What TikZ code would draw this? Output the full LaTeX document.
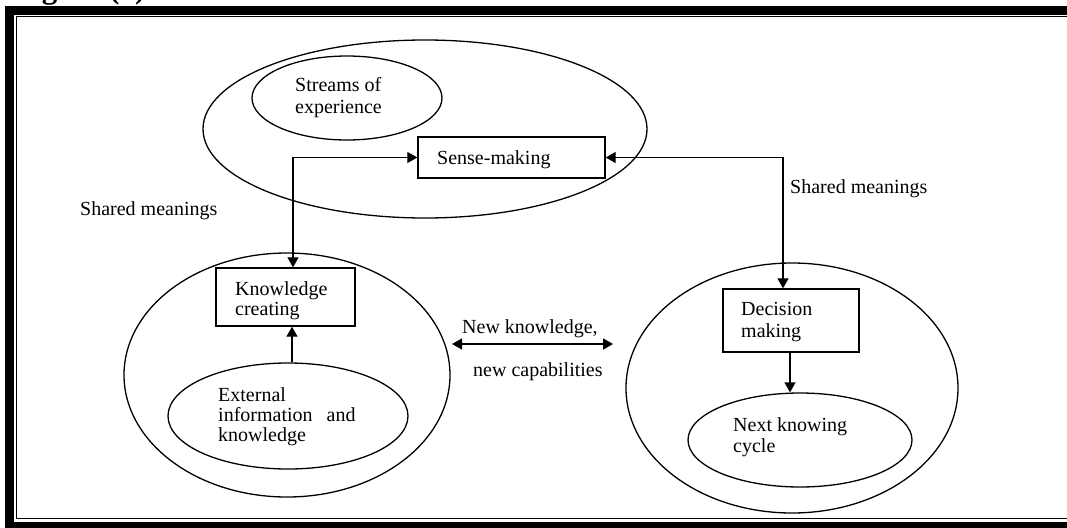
\documentclass[tikz,border=0pt]{standalone}
\usepackage{fontspec}
\setmainfont{Liberation Serif}
\usetikzlibrary{arrows.meta,shapes.geometric}
\begin{document}
\begin{tikzpicture}[x=1pt,y=-1pt,
  ell/.style={draw,ellipse,line width=1.3pt,inner sep=0pt},
  boxn/.style={draw,rectangle,line width=1.4pt,inner sep=0pt},
  txt/.style={anchor=base west,inner sep=0pt,font=\fontsize{20}{24}\selectfont},
  tip/.tip={Triangle[length=10pt,width=11pt]},
  conn/.style={line width=1.3pt,-tip},
  bconn/.style={line width=1.3pt,tip-tip}]
\useasboundingbox (0,0) rectangle (1067,527);
% frame
\fill (5,6) rectangle (1080,15);
\fill (5,6) rectangle (14,540);
\fill (5,521.5) rectangle (1080,540);
\draw[line width=1.5pt] (1080,16.7) -- (16.3,16.7) -- (16.3,518.5) -- (1080,518.5);
\node[anchor=base west,inner sep=0pt,font=\bfseries\fontsize{31}{33}\selectfont] (title) at (14,-1) {Figure (1)};
% shapes
\node[ell,minimum width=444pt,minimum height=178pt] (top) at (425,129) {};
\node[ell,minimum width=190pt,minimum height=84pt] (streams) at (347,98) {};
\node[boxn,minimum width=187pt,minimum height=41pt] (sense) at (511.5,157.5) {};
\node[ell,minimum width=326pt,minimum height=244pt] (lout) at (287,375) {};
\node[boxn,minimum width=139pt,minimum height=58pt] (kc) at (285.5,297) {};
\node[ell,minimum width=240pt,minimum height=106pt] (ext) at (288,416) {};
\node[ell,minimum width=332pt,minimum height=250pt] (rout) at (792,388) {};
\node[boxn,minimum width=136pt,minimum height=63pt] (dm) at (791,320.5) {};
\node[ell,minimum width=224pt,minimum height=94pt] (next) at (800,440) {};
% texts
\node[txt] (t1) at (295,91) {Streams of};
\node[txt] (t2) at (295,113) {experience};
\node[txt] (t3) at (437,164) {Sense-making};
\node[txt] (t4) at (235,295) {Knowledge};
\node[txt] (t5) at (235,315) {creating};
\node[txt] (t6) at (218,401) {External};
\node[txt] (t7) at (218,421) {information\hspace{14pt}and};
\node[txt] (t8) at (218,441) {knowledge};
\node[txt] (t9) at (741,315) {Decision};
\node[txt] (t10) at (741,337) {making};
\node[txt] (t11) at (733,431) {Next knowing};
\node[txt] (t12) at (733,452) {cycle};
\node[txt] (t13) at (462,333) {New knowledge,};
\node[txt] (t14) at (473,376) {new capabilities};
\node[txt] (t15) at (790,193) {Shared meanings};
\node[txt] (t16) at (80,215) {Shared meanings};
% connectors
\coordinate (cl) at (293,157.5);
\coordinate (cr) at (783,157.5);
\draw[bconn] (kc.north -| cl) -- (cl) -- (sense.west);
\draw[bconn] (sense.east) -- (cr) -- (dm.north -| cr);
\draw[conn] ([xshift=-1pt]dm.south) -- ([xshift=-1pt]dm.south |- next.north);
\draw[conn] ([xshift=4pt]ext.north) -- ([xshift=4pt]ext.north |- kc.south);
\coordinate (na) at (452,344);
\coordinate (nb) at (613,344);
\draw[bconn] (na) -- (nb);
\end{tikzpicture}
\end{document}
